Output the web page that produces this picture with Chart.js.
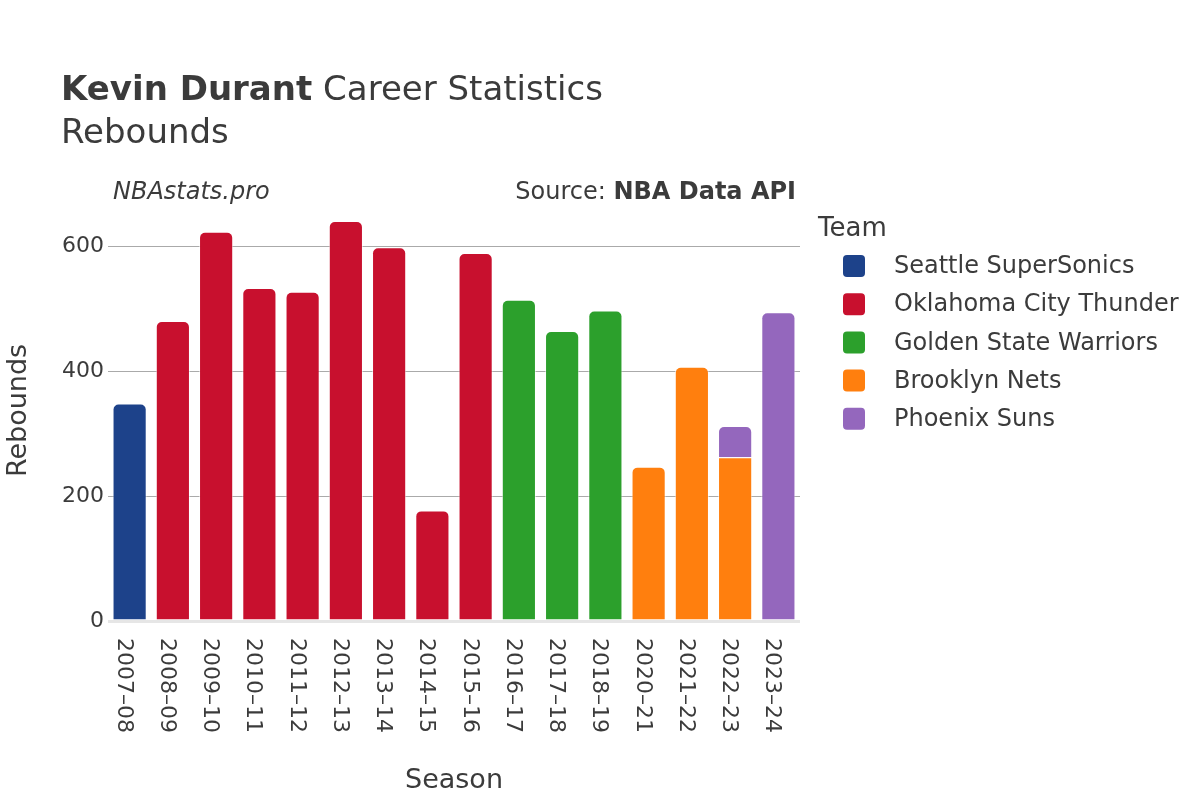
<!DOCTYPE html>
<html>
<head>
<meta charset="utf-8">
<script src="https://cdn.jsdelivr.net/npm/chart.js@4.4.1/dist/chart.umd.min.js"></script>
<style>
html,body{margin:0;padding:0;background:#fff;}
#wrap{width:1200px;height:800px;position:relative;}
</style>
</head>
<body>
<div id="wrap"><canvas id="c" width="1200" height="800"></canvas></div>
<script>
const seasons = ['2007–08','2008–09','2009–10','2010–11','2011–12','2012–13','2013–14','2014–15','2015–16','2016–17','2017–18','2018–19','2020–21','2021–22','2022–23','2023–24'];
const teams = ['Seattle SuperSonics','Oklahoma City Thunder','Golden State Warriors','Brooklyn Nets','Phoenix Suns'];
const teamColors = ['#1d428a','#c8102e','#2ca02c','#ff7f0e','#9467bd'];
const seattle  = [348,null,null,null,null,null,null,null,null,null,null,null,null,null,null,null];
const thunder  = [null,480,623,533,527,640,598,177,589,null,null,null,null,null,null,null];
const warriors = [null,null,null,null,null,null,null,null,null,514,464,497,null,null,null,null];
const nets     = [null,null,null,null,null,null,null,null,null,null,null,null,247,407,262,null];
const suns     = [null,null,null,null,null,null,null,null,null,null,null,null,null,null,50,494];
const yTicks = [0,200,400,600];
const seriesValues = [seattle,thunder,warriors,nets,suns];

const FONT = "'DejaVu Sans', sans-serif";
const TXT = '#3b3b3b';

const textPlugin = {
  id: 'textPlugin',
  afterDraw(chart) {
    const ctx = chart.ctx;
    ctx.save();
    ctx.fillStyle = TXT;
    ctx.textBaseline = 'alphabetic';
    ctx.textAlign = 'left';
    // Title
    ctx.font = "bold 34px " + FONT;
    const bold = 'Kevin Durant';
    ctx.fillText(bold, 61, 100);
    const bw = ctx.measureText(bold).width;
    ctx.font = "34px " + FONT;
    ctx.fillText(' Career Statistics', 61 + bw, 100);
    ctx.fillText('Rebounds', 61, 143);
    // Watermark / source
    ctx.font = "italic 24px " + FONT;
    ctx.fillText('NBAstats.pro', 113, 199);
    ctx.font = "bold 24px " + FONT;
    const src2 = 'NBA Data API';
    const w2 = ctx.measureText(src2).width;
    ctx.textAlign = 'right';
    ctx.fillText(src2, 796, 199);
    ctx.font = "24px " + FONT;
    ctx.fillText('Source: ', 796 - w2, 199);
    // X tick labels (rotated clockwise)
    const xs = chart.scales.x;
    ctx.font = "22px " + FONT;
    ctx.textAlign = 'left';
    ctx.textBaseline = 'alphabetic';
    seasons.forEach((s, i) => {
      const px = xs.getPixelForValue(i);
      ctx.save();
      ctx.translate(px - 12, 638);
      ctx.rotate(Math.PI / 2);
      ctx.fillText(s, 0, 0);
      ctx.restore();
    });
    // Axis titles
    ctx.textAlign = 'center';
    ctx.textBaseline = 'alphabetic';
    ctx.font = "27px " + FONT;
    ctx.fillText('Season', (chart.chartArea.left + chart.chartArea.right) / 2, 788);
    ctx.save();
    ctx.translate(26, (chart.chartArea.top + chart.chartArea.bottom) / 2);
    ctx.rotate(-Math.PI / 2);
    ctx.fillText('Rebounds', 0, 0);
    ctx.restore();
    // Legend
    ctx.textAlign = 'left';
    ctx.font = "26px " + FONT;
    ctx.fillText('Team', 818, 236);
    ctx.font = "24px " + FONT;
    ctx.textBaseline = 'middle';
    teams.forEach((t, i) => {
      const cy = 266 + i * 38.2;
      ctx.fillStyle = teamColors[i];
      ctx.beginPath();
      if (ctx.roundRect) ctx.roundRect(843, cy - 11, 22, 22, 4); else ctx.rect(843, cy - 11, 22, 22);
      ctx.fill();
      ctx.fillStyle = TXT;
      ctx.fillText(t, 894, cy + 1);
    });
    ctx.restore();
  }
};

const datasets = teams.map((t, i) => ({
  label: t,
  data: seriesValues[i],
  backgroundColor: teamColors[i],
  borderColor: 'rgba(255,255,255,0.55)',
  borderWidth: 1,
  borderRadius: 6,
  borderSkipped: 'start',
  barPercentage: 0.79,
  categoryPercentage: 1.0
}));

new Chart(document.getElementById('c'), {
  type: 'bar',
  data: { labels: seasons, datasets },
  options: {
    responsive: false,
    animation: false,
    devicePixelRatio: 1,
    layout: { autoPadding: false, padding: { top: 200, left: 0, right: 400, bottom: 0 } },
    plugins: { legend: { display: false }, title: { display: false }, tooltip: { enabled: false } },
    scales: {
      x: {
        stacked: true,
        grid: { display: false },
        border: { display: false },
        ticks: { display: false },
        afterFit(scale) { scale.height = 179; }
      },
      y: {
        stacked: true,
        min: 0,
        max: 673.7,
        afterBuildTicks(scale) { scale.ticks = yTicks.map(v => ({ value: v })); },
        ticks: { includeBounds: false, stepSize: 200, padding: 4, color: TXT, font: { family: FONT, size: 22 } },
        grid: {
          drawTicks: false,
          color: c => (c.tick && c.tick.value === 0) ? '#e6e6e6' : '#aaaaaa',
          lineWidth: c => (c.tick && c.tick.value === 0) ? 3 : 1
        },
        border: { display: false },
        afterFit(scale) { scale.width = 108; }
      }
    }
  },
  plugins: [textPlugin]
});
</script>
</body>
</html>
